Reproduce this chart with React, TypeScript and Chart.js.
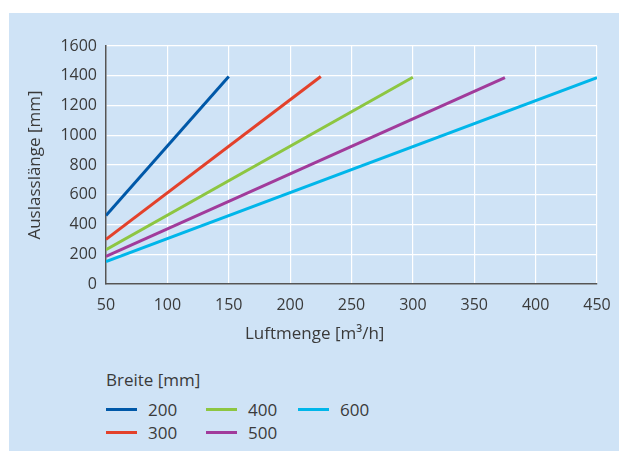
import React from 'react';
import Chart from 'chart.js/auto';

// Luftmenge [m³/h] (x) und Auslasslänge [mm] (y) je Breite
const widthLabels = ['200', '300', '400', '500', '600'];
const flow200 = [50, 150];
const length200 = [460, 1395];
const flow300 = [50, 225];
const length300 = [300, 1395];
const flow400 = [50, 300];
const length400 = [230, 1390];
const flow500 = [50, 375];
const length500 = [185, 1388];
const flow600 = [50, 450];
const length600 = [150, 1388];
const lineColors = ['#0058a8', '#e3412b', '#8dc641', '#a13b9b', '#00b6ea'];

const xTicks = [50, 100, 150, 200, 250, 300, 350, 400, 450];
const yTicks = [0, 200, 400, 600, 800, 1000, 1200, 1400, 1600];

const flows = [flow200, flow300, flow400, flow500, flow600];
const lengths = [length200, length300, length400, length500, length600];

const textColor = '#3a3a3a';
const fontFamily = '"Open Sans", "Noto Sans", sans-serif';

const AirChart = () => {
    const canvasRef = React.useRef<HTMLCanvasElement>(null);

    React.useEffect(() => {
        const canvas = canvasRef.current;
        if (!canvas) return;

        const datasets = widthLabels.map((label, i) => ({
            label,
            data: flows[i].map((x, j) => ({ x, y: lengths[i][j] })),
            borderColor: lineColors[i],
            backgroundColor: lineColors[i],
            borderWidth: 3,
            pointRadius: 0,
            fill: false,
            tension: 0,
        }));

        const chart = new Chart(canvas, {
            type: 'line',
            data: { datasets },
            options: {
                animation: false,
                responsive: true,
                maintainAspectRatio: false,
                layout: { padding: { top: 33, right: 22, left: 0, bottom: 0 } },
                plugins: {
                    legend: { display: false },
                    tooltip: { enabled: false },
                },
                scales: {
                    x: {
                        type: 'linear',
                        min: 50,
                        max: 450,
                        afterFit: (scale: any) => {
                            scale.height = 66;
                            scale.paddingLeft = 0;
                            scale.paddingRight = 0;
                        },
                        afterBuildTicks: (scale: any) => {
                            scale.ticks = xTicks.map((v) => ({ value: v }));
                        },
                        grid: { color: '#ffffff', lineWidth: 1.2, drawTicks: false },
                        border: { color: '#555555', width: 1.5 },
                        ticks: {
                            padding: 12,
                            color: textColor,
                            font: { family: fontFamily, size: 16 },
                            callback: (v: any) => String(v),
                        },
                    },
                    y: {
                        type: 'linear',
                        min: 0,
                        max: 1600,
                        afterFit: (scale: any) => {
                            scale.width = 97;
                            scale.paddingTop = 0;
                            scale.paddingBottom = 0;
                        },
                        afterBuildTicks: (scale: any) => {
                            scale.ticks = yTicks.map((v) => ({ value: v }));
                        },
                        grid: { color: '#ffffff', lineWidth: 1.2, drawTicks: false },
                        border: { color: '#555555', width: 1.5 },
                        ticks: {
                            padding: 9,
                            color: textColor,
                            font: { family: fontFamily, size: 16 },
                            callback: (v: any) => String(v),
                        },
                        title: {
                            display: true,
                            text: 'Auslasslänge [mm]',
                            color: textColor,
                            font: { family: fontFamily, size: 17 },
                            padding: { top: 16, bottom: 0 },
                        },
                    },
                },
            },
        });

        return () => {
            chart.destroy();
        };
    }, []);

    // legend is laid out in columns: 200/300, 400/500, 600
    const legendPos = [
        { left: 97, top: 396 },
        { left: 97, top: 419 },
        { left: 197, top: 396 },
        { left: 197, top: 419 },
        { left: 289, top: 396 },
    ];

    return (
        <div style={{ position: 'absolute', left: 0, top: 0, width: 619, height: 451, background: '#ffffff' }}>
            <div style={{ position: 'absolute', left: 9, top: 13, width: 610, height: 438, background: '#cfe3f6' }}>
                <div style={{ position: 'absolute', left: 0, top: 0, width: 610, height: 337 }}>
                    <canvas ref={canvasRef}></canvas>
                </div>
                <div style={{
                    position: 'absolute', left: 236, top: 309, fontFamily, fontSize: 17,
                    color: textColor, lineHeight: '22px', whiteSpace: 'nowrap',
                }}>
                    Luftmenge [m³/h]
                </div>
                <div style={{
                    position: 'absolute', left: 97, top: 356, fontFamily, fontSize: 17,
                    color: textColor, lineHeight: '22px', whiteSpace: 'nowrap',
                }}>
                    Breite [mm]
                </div>
                {widthLabels.map((label, i) => (
                    <div key={label} style={{
                        position: 'absolute', left: legendPos[i].left, top: legendPos[i].top - 11,
                        height: 22, display: 'flex', alignItems: 'center', fontFamily, fontSize: 17,
                        color: textColor, whiteSpace: 'nowrap',
                    }}>
                        <span style={{ display: 'inline-block', width: 31, height: 3, background: lineColors[i], marginRight: 11 }}></span>
                        <span>{label}</span>
                    </div>
                ))}
            </div>
        </div>
    );
};

export default function App() {
    return <AirChart />;
}
